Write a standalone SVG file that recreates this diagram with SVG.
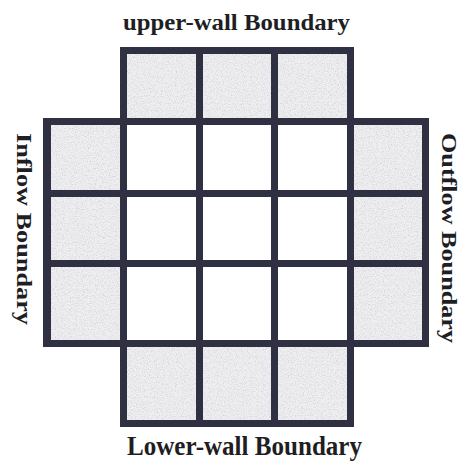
<svg xmlns="http://www.w3.org/2000/svg" width="462" height="462" viewBox="0 0 462 462">
  <defs>
    <filter id="grain" x="0" y="0" width="100%" height="100%">
      <feTurbulence type="fractalNoise" baseFrequency="0.85" numOctaves="2" seed="7" result="n"/>
      <feColorMatrix in="n" type="matrix" values="0 0 0 0 0.5  0 0 0 0 0.5  0 0 0 0 0.55  1.6 0 0 0 -0.72" result="dots"/>
      <feComposite in="dots" in2="SourceGraphic" operator="in" result="d2"/>
      <feMerge><feMergeNode in="SourceGraphic"/><feMergeNode in="d2"/></feMerge>
    </filter>
    <style>
      .frame { fill: #2f3142; }
      .ghost { fill: #efeff2; filter: url(#grain); }
      .inner { fill: #ffffff; }
      .lbl { font-family: "Liberation Serif", "DejaVu Serif", serif; font-weight: bold; fill: #1e1e24; }
    </style>
  </defs>
  <rect width="462" height="462" fill="#ffffff"/>

  <g id="frame">
    <path class="frame" d="M120,47 H354 V118 H429 V347 H354 V427 H120 V347 H43 V118 H120 Z"/>
  </g>

  <g id="upper-wall-cells">
    <rect id="u1" class="ghost" x="127" y="54" width="69" height="64"/>
    <rect id="u2" class="ghost" x="203" y="54" width="68" height="64"/>
    <rect id="u3" class="ghost" x="278" y="54" width="69" height="64"/>
  </g>
  <g id="inflow-cells">
    <rect id="i1" class="ghost" x="51" y="125" width="69" height="65"/>
    <rect id="i2" class="ghost" x="51" y="197" width="69" height="63"/>
    <rect id="i3" class="ghost" x="51" y="267" width="69" height="73"/>
  </g>
  <g id="interior-cells">
    <rect class="inner" x="127" y="125" width="69" height="65"/>
    <rect class="inner" x="203" y="125" width="68" height="65"/>
    <rect class="inner" x="278" y="125" width="69" height="65"/>
    <rect class="inner" x="127" y="197" width="69" height="63"/>
    <rect class="inner" x="203" y="197" width="68" height="63"/>
    <rect class="inner" x="278" y="197" width="69" height="63"/>
    <rect class="inner" x="127" y="267" width="69" height="73"/>
    <rect class="inner" x="203" y="267" width="68" height="73"/>
    <rect class="inner" x="278" y="267" width="69" height="73"/>
  </g>
  <g id="outflow-cells">
    <rect id="o1" class="ghost" x="354" y="125" width="68" height="65"/>
    <rect id="o2" class="ghost" x="354" y="197" width="68" height="63"/>
    <rect id="o3" class="ghost" x="354" y="267" width="68" height="73"/>
  </g>
  <g id="lower-wall-cells">
    <rect id="l1" class="ghost" x="127" y="347" width="69" height="73"/>
    <rect id="l2" class="ghost" x="203" y="347" width="68" height="73"/>
    <rect id="l3" class="ghost" x="278" y="347" width="69" height="73"/>
  </g>

  <g id="labels">
    <text class="lbl" x="236.5" y="30" font-size="24" text-anchor="middle" textLength="227" lengthAdjust="spacingAndGlyphs">upper-wall Boundary</text>
    <text class="lbl" x="244.5" y="455" font-size="27" text-anchor="middle" textLength="235" lengthAdjust="spacingAndGlyphs">Lower-wall Boundary</text>
    <text class="lbl" transform="translate(17,229) rotate(90)" x="0" y="0" font-size="21" text-anchor="middle" textLength="192" lengthAdjust="spacingAndGlyphs">Inflow Boundary</text>
    <text class="lbl" transform="translate(442,238) rotate(90)" x="0" y="0" font-size="21" text-anchor="middle" textLength="210" lengthAdjust="spacingAndGlyphs">Outflow Boundary</text>
  </g>
</svg>
